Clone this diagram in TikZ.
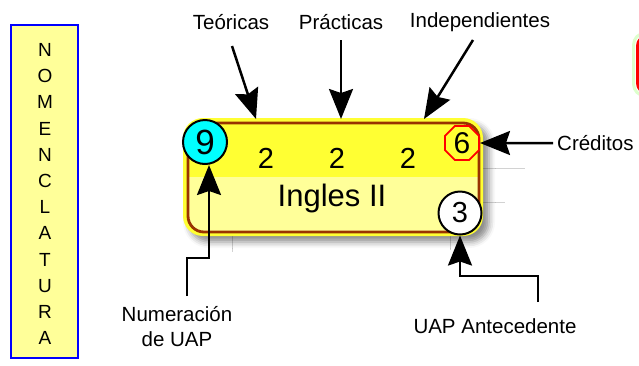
\documentclass[tikz,border=0pt]{standalone}
\usepackage{fontspec}
\setmainfont{Liberation Sans}
\usetikzlibrary{arrows.meta,shapes.geometric,shadows.blur,calc}
\definecolor{nomfill}{HTML}{FFFF99}
\definecolor{boxtop}{HTML}{FFFF33}
\definecolor{boxbot}{HTML}{FFFF99}
\definecolor{boxedge}{HTML}{993300}
\definecolor{halo}{HTML}{DDFFCC}
\definecolor{aqua}{HTML}{00FFFF}
\begin{document}
\begin{tikzpicture}[x=1pt,y=-1pt,
  lbl/.style={font=\fontsize{20.5}{25}\selectfont, inner sep=0pt, align=center},
  arr/.style={draw=black, line width=2.5pt, -{Stealth[length=30pt,width=24pt,inset=4pt,fill=black]}},
  num/.style={font=\fontsize{29}{30}\selectfont, inner sep=0pt},
  badge/.style={circle, draw=black, line width=2pt, minimum size=44pt, inner sep=0pt},
  faint/.style={draw=gray!35, line width=0.7pt},
  nomletter/.style={font=\fontsize{19}{19}\selectfont, inner sep=0pt}
]
\useasboundingbox (0,0) rectangle (639,365);

% faint background lines
\draw[faint] (232,236) -- (232,252);
\draw[faint] (450,236) -- (450,250);
\draw[faint] (483,168) -- (525,168);
\draw[faint] (483,202) -- (505,202);

% partial shape at right edge
\draw[line width=3pt, halo, rounded corners=12pt] (633.5,33) rectangle (720,96);
\draw[line width=3pt, red, rounded corners=10pt] (637.5,36) rectangle (720,93);

% nomenclatura
\draw[blue, line width=2pt, fill=nomfill] (11,25) rectangle (78,358);
\foreach \l [count=\i from 0] in {N,O,M,E,N,C,L,A,T,U,R,A}
  \node[nomletter] (nom\i) at (45,{50+26.2*\i}) {\l};

% main box
\begin{scope}
\path[fill=boxtop, rounded corners=20pt,
  blur shadow={shadow xshift=6pt, shadow yshift=-6pt, shadow blur radius=6pt, shadow opacity=45}]
  (183,118) rectangle (483,236);
\end{scope}
\begin{scope}
  \clip[rounded corners=16pt] (188,123) rectangle (479,232);
  \fill[boxbot] (180,177) rectangle (490,240);
\end{scope}
\draw[boxedge, line width=2.8pt, rounded corners=16pt] (188,123) rectangle (479,232);

\node[num] (t2) at (266,158) {2};
\node[num] (p2) at (337,158) {2};
\node[num] (i2) at (408,158) {2};
\node[font=\fontsize{31}{31}\selectfont, inner sep=0pt] (name) at (332,198) {Ingles II};

\node[badge, fill=aqua, font=\fontsize{35}{35}\selectfont] (nine) at (205,142) {9};
\node[regular polygon, regular polygon sides=8, draw=red, line width=1.8pt, fill=boxtop,
  minimum size=37pt, inner sep=0pt, font=\fontsize{30}{30}\selectfont] (six) at (462,143) {6};
\node[badge, fill=white, minimum size=43pt, font=\fontsize{29}{29}\selectfont] (three) at (460,213) {3};

% labels
\node[lbl] (teo) at (231,22) {Teóricas};
\node[lbl] (pra) at (341,22) {Prácticas};
\node[lbl] (ind) at (480,22) {Independientes};
\node[lbl, anchor=west] (cre) at (557,143) {Créditos};
\node[lbl] (numl) at (177,327) {Numeración\\de UAP};
\node[lbl] (ante) at (495,326) {UAP Antecedente};

% connector ends
\coordinate (teoS) at (232,46);
\coordinate (teoT) at (256,119);
\coordinate (praS) at (341,40);
\coordinate (praT) at (341,119);
\coordinate (indS) at (473,40);
\coordinate (indT) at (424,119);
\coordinate (creS) at (553,143);
\coordinate (numS) at (187,296);
\coordinate (numA) at (187,258);
\coordinate (numB) at (209,258);
\coordinate (antS) at (538,302);
\coordinate (antA) at (538,276);
\coordinate (antB) at (460,276);

\draw[arr] (teoS) -- (teoT);
\draw[arr] (praS) -- (praT);
\draw[arr] (indS) -- (indT);
\draw[arr] (creS) -- (six.east);
\draw[arr] (numS) -- (numA) -- (numB) -- (nine.south -| numB);
\draw[arr] (antS) -- (antA) -- (antB) -- (three.south);
\end{tikzpicture}
\end{document}
